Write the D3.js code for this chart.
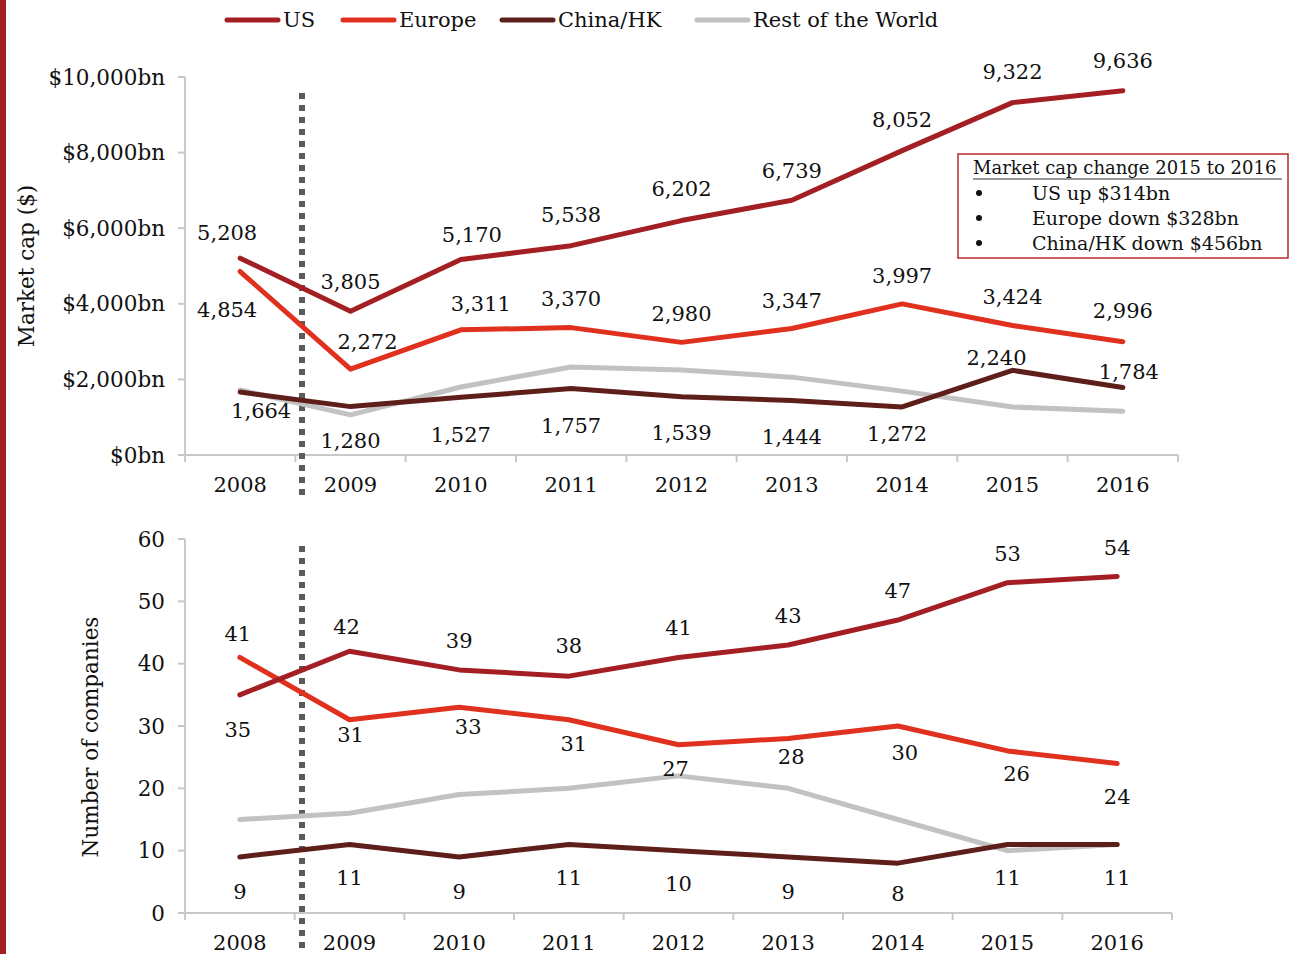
<!DOCTYPE html>
<html>
<head>
<meta charset="utf-8">
<script src="https://cdn.jsdelivr.net/npm/d3@7"></script>
<style>
  body { margin: 0; background: #fff; }
  svg text { font-family: "DejaVu Serif", Georgia, serif; fill: #111; }
</style>
</head>
<body>
<div id="chart"></div>
<script>
// data
var years = ["2008", "2009", "2010", "2011", "2012", "2013", "2014", "2015", "2016"];
var seriesNames = ["US", "Europe", "China/HK", "Rest of the World"];

// market cap ($bn)
var capUS = [5208, 3805, 5170, 5538, 6202, 6739, 8052, 9322, 9636];
var capEurope = [4854, 2272, 3311, 3370, 2980, 3347, 3997, 3424, 2996];
var capChina = [1664, 1280, 1527, 1757, 1539, 1444, 1272, 2240, 1784];
var capRest = [1720, 1060, 1800, 2330, 2250, 2060, 1690, 1270, 1160];

// number of companies
var numUS = [35, 42, 39, 38, 41, 43, 47, 53, 54];
var numEurope = [41, 31, 33, 31, 27, 28, 30, 26, 24];
var numChina = [9, 11, 9, 11, 10, 9, 8, 11, 11];
var numRest = [15, 16, 19, 20, 22, 20, 15, 10, 11];

var capTicks = [0, 2000, 4000, 6000, 8000, 10000];
var numTicks = [0, 10, 20, 30, 40, 50, 60];

var boxTitle = "Market cap change 2015 to 2016";
var boxLines = ["US up $314bn", "Europe down $328bn", "China/HK down $456bn"];

// label placement (offsets from the point, in px)
var capUSOff = [[-13,-25],[0,-30],[11,-25],[0,-31],[0,-32],[0,-30],[0,-31],[0,-31],[0,-30]];
var capEuOff = [[-13,38],[17,-27],[20,-26],[0,-29],[0,-29],[0,-28],[0,-28],[0,-29],[0,-31]];
var capCnOff = [[21,19],[0,34],[0,37],[0,37],[0,36],[0,36],[-5,27],[-16,-13],[6,-16]];
var numUSOff = [[-2,35],[-3,-25],[0,-29],[0,-30],[0,-30],[0,-29],[0,-29],[0,-29],[0,-29]];
var numEuOff = [[-2,-24],[1,15],[9,19],[5,24],[-3,24],[3,18],[7,27],[9,23],[0,33]];
var numCnOff = [[0,35],[0,33],[0,35],[0,33],[0,33],[0,35],[0,31],[0,33],[0,33]];

var colors = ["#a31f24", "#e0301e", "#5e1f1b", "#c2c2c2"];
var axisColor = "#c9c9c9";

var W = 1290, H = 954;
var svg = d3.select("#chart").append("svg")
    .attr("width", W)
    .attr("height", H);

// red strip on the left edge
svg.append("rect")
    .attr("x", 0).attr("y", 0)
    .attr("width", 6).attr("height", H)
    .attr("fill", "#a31f24");

var fmt = d3.format(",");

function drawPanel(opts) {
  var x = d3.scaleBand().domain(years).range(opts.xRange);
  var y = d3.scaleLinear().domain(opts.yDomain).range(opts.yRange);
  var bw = x.bandwidth();
  var cx = function(i) { return x(years[i]) + bw / 2; };

  var g = svg.append("g");

  // y axis
  g.append("line")
      .attr("x1", opts.xRange[0]).attr("x2", opts.xRange[0])
      .attr("y1", opts.yRange[0]).attr("y2", opts.yRange[1])
      .attr("stroke", axisColor).attr("stroke-width", 2);
  g.selectAll(".ytick")
      .data(opts.ticks)
      .enter().append("line")
      .attr("x1", opts.xRange[0] - 7).attr("x2", opts.xRange[0])
      .attr("y1", function(d) { return y(d); })
      .attr("y2", function(d) { return y(d); })
      .attr("stroke", axisColor).attr("stroke-width", 2);
  g.selectAll(".ylab")
      .data(opts.ticks)
      .enter().append("text")
      .attr("x", opts.xRange[0] - 20)
      .attr("y", function(d) { return y(d); })
      .attr("dy", "0.35em")
      .attr("text-anchor", "end")
      .style("font-size", "21.5px")
      .text(opts.tickFmt);

  // x axis
  g.append("line")
      .attr("x1", opts.xRange[0]).attr("x2", opts.xRange[1])
      .attr("y1", opts.yRange[0]).attr("y2", opts.yRange[0])
      .attr("stroke", axisColor).attr("stroke-width", 2);
  var bounds = years.map(function(d) { return x(d); }).concat([opts.xRange[1]]);
  g.selectAll(".xtick")
      .data(bounds)
      .enter().append("line")
      .attr("x1", function(d) { return d; }).attr("x2", function(d) { return d; })
      .attr("y1", opts.yRange[0]).attr("y2", opts.yRange[0] + 7)
      .attr("stroke", axisColor).attr("stroke-width", 2);
  g.selectAll(".xlab")
      .data(years)
      .enter().append("text")
      .attr("x", function(d) { return x(d) + bw / 2; })
      .attr("y", opts.yRange[0] + 30)
      .attr("dy", "0.35em")
      .attr("text-anchor", "middle")
      .style("font-size", "21px")
      .text(function(d) { return d; });

  // axis title
  g.append("text")
      .attr("transform", "translate(" + opts.titleX + "," + opts.titleY + ") rotate(-90)")
      .attr("text-anchor", "middle")
      .attr("dy", "0.35em")
      .style("font-size", "21.5px")
      .text(opts.title);

  // dotted divider between 2008 and 2009
  g.append("line")
      .attr("x1", 302).attr("x2", 302)
      .attr("y1", opts.dotTop).attr("y2", opts.dotBottom)
      .attr("stroke", "#5b5b5b")
      .attr("stroke-width", 6)
      .attr("stroke-dasharray", "6,6");

  var line = d3.line()
      .x(function(d, i) { return cx(i); })
      .y(function(d) { return y(d); });

  // draw order: rest, china, europe, us
  [3, 2, 1, 0].forEach(function(k) {
    g.append("path")
        .datum(opts.series[k])
        .attr("d", line)
        .attr("fill", "none")
        .attr("stroke", colors[k])
        .attr("stroke-width", 5)
        .attr("stroke-linejoin", "round")
        .attr("stroke-linecap", "round");
  });

  // value labels
  opts.labels.forEach(function(lb) {
    g.selectAll(null)
        .data(lb.values)
        .enter().append("text")
        .attr("x", function(d, i) { return cx(i) + lb.off[i][0]; })
        .attr("y", function(d, i) { return y(d) + lb.off[i][1]; })
        .attr("dy", "0.35em")
        .attr("text-anchor", "middle")
        .style("font-size", "21px")
        .text(function(d) { return fmt(d); });
  });
}

drawPanel({
  xRange: [185, 1178],
  yDomain: [0, 10000],
  yRange: [455, 77],
  ticks: capTicks,
  tickFmt: function(d) { return "$" + fmt(d) + "bn"; },
  title: "Market cap ($)",
  titleX: 26, titleY: 266,
  dotTop: 93, dotBottom: 497,
  series: [capUS, capEurope, capChina, capRest],
  labels: [
    {values: capUS, off: capUSOff},
    {values: capEurope, off: capEuOff},
    {values: capChina, off: capCnOff}
  ]
});

drawPanel({
  xRange: [185, 1172],
  yDomain: [0, 60],
  yRange: [913, 539],
  ticks: numTicks,
  tickFmt: function(d) { return d; },
  title: "Number of companies",
  titleX: 90, titleY: 737,
  dotTop: 546, dotBottom: 954,
  series: [numUS, numEurope, numChina, numRest],
  labels: [
    {values: numUS, off: numUSOff},
    {values: numEurope, off: numEuOff},
    {values: numChina, off: numCnOff}
  ]
});

// legend
var legX = [225, 341, 500, 695];
var legend = svg.selectAll(".legend")
    .data(seriesNames)
    .enter().append("g")
    .attr("transform", function(d, i) { return "translate(" + legX[i] + ",20)"; });
legend.append("line")
    .attr("x1", 2).attr("x2", 53)
    .attr("y1", 0).attr("y2", 0)
    .attr("stroke", function(d, i) { return colors[i]; })
    .attr("stroke-width", 5)
    .attr("stroke-linecap", "round");
legend.append("text")
    .attr("x", 58)
    .attr("dy", "0.35em")
    .style("font-size", "21px")
    .text(function(d) { return d; });

// annotation box
var box = svg.append("g").attr("transform", "translate(958,154)");
box.append("rect")
    .attr("x", 0).attr("y", 0)
    .attr("width", 330).attr("height", 104)
    .attr("fill", "#fff")
    .attr("stroke", "#b52a30")
    .attr("stroke-width", 1.5);
box.append("text")
    .attr("x", 15).attr("y", 14)
    .attr("dy", "0.35em")
    .style("font-size", "18px")
    .text(boxTitle);
box.append("line")
    .attr("x1", 15).attr("x2", 324)
    .attr("y1", 25).attr("y2", 25)
    .attr("stroke", "#333").attr("stroke-width", 1.2);
box.selectAll(".bl")
    .data(boxLines)
    .enter().append("text")
    .attr("x", 74)
    .attr("y", function(d, i) { return 39 + i * 25; })
    .attr("dy", "0.35em")
    .style("font-size", "19px")
    .text(function(d) { return d; });
box.selectAll(".bd")
    .data(boxLines)
    .enter().append("circle")
    .attr("cx", 21)
    .attr("cy", function(d, i) { return 39 + i * 25; })
    .attr("r", 3)
    .attr("fill", "#111");
</script>
</body>
</html>
